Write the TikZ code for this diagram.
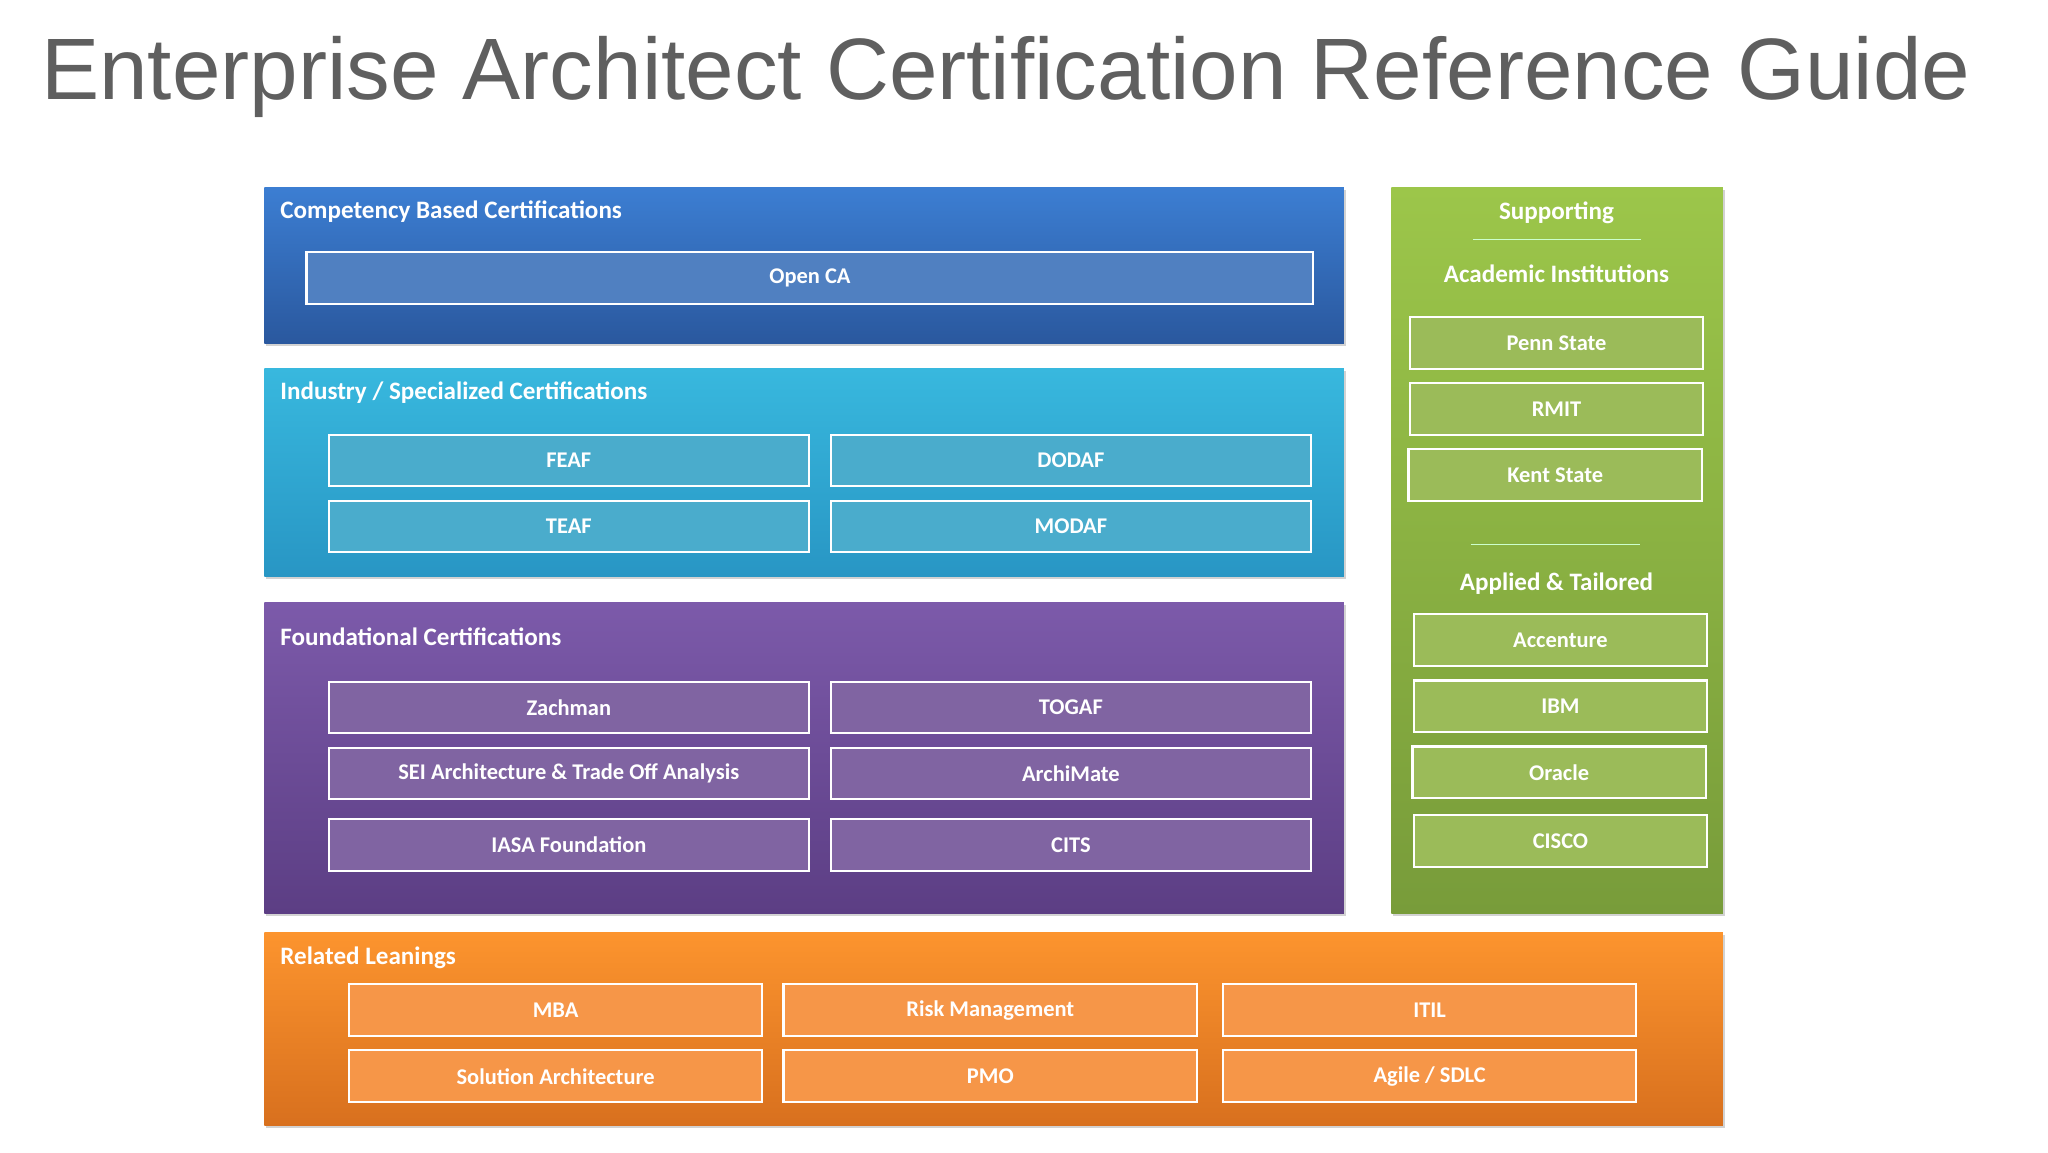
\documentclass[tikz,border=0pt]{standalone}
\usepackage{fontspec}
\setmainfont{Carlito}
\newfontfamily\titlefont{Liberation Sans}
\usetikzlibrary{shadows}
\definecolor{tgray}{HTML}{5F5F5F}
\begin{document}
\begin{tikzpicture}[x=1pt,y=-1pt,
  panel/.style={draw=none, drop shadow={shadow xshift=1.5pt,shadow yshift=-2pt,opacity=0.35}},
  ib/.style={draw=white, line width=1.6pt, minimum height=39pt, inner sep=0pt, text=white, font=\bfseries\fontsize{17}{20}\selectfont},
  hd/.style={anchor=west, text=white, font=\bfseries\fontsize{19}{22}\selectfont, inner sep=0pt},
  sh/.style={text=white, font=\bfseries\fontsize{19}{22}\selectfont, inner sep=0pt}]
\useasboundingbox (0,0) rectangle (1550,872);
\fill[white] (0,0) rectangle (1550,872);
\node[anchor=base west, inner sep=0pt, text=tgray, font=\titlefont\fontsize{66}{70}\selectfont] (title) at (31,75) {Enterprise Architect Certification Reference Guide};
% blue
\shade[panel, top color={rgb,255:red,60;green,126;blue,210}, bottom color={rgb,255:red,42;green,88;blue,158}] (200,142) rectangle (1017,260);
\node[hd] (h1) at (212,160) {Competency Based Certifications};
\node[ib, fill={rgb,255:red,80;green,128;blue,193}, minimum width=762pt] (openca) at (613,210.5) {Open CA};
% cyan
\shade[panel, top color={rgb,255:red,56;green,184;blue,222}, bottom color={rgb,255:red,40;green,150;blue,196}] (200,279) rectangle (1017,436);
\node[hd] (h2) at (212,297) {Industry / Specialized Certifications};
\tikzset{cy/.style={ib, fill={rgb,255:red,74;green,172;blue,204}, minimum width=363pt}}
\node[cy] (feaf) at (430.5,348.5) {FEAF};
\node[cy] (dodaf) at (810.5,348.5) {DODAF};
\node[cy] (teaf) at (430.5,398.5) {TEAF};
\node[cy] (modaf) at (810.5,398.5) {MODAF};
% purple
\shade[panel, top color={rgb,255:red,124;green,90;blue,170}, bottom color={rgb,255:red,92;green,62;blue,132}] (200,456) rectangle (1017,691);
\node[hd] (h3) at (212,482) {Foundational Certifications};
\tikzset{pu/.style={ib, fill={rgb,255:red,128;green,100;blue,162}, minimum width=363pt}}
\node[pu] (zach) at (430.5,535.5) {Zachman};
\node[pu] (togaf) at (810.5,535.5) {TOGAF};
\node[pu] (sei) at (430.5,585.5) {SEI Architecture \& Trade Off Analysis};
\node[pu] (archi) at (810.5,585.5) {ArchiMate};
\node[pu] (iasa) at (430.5,639.5) {IASA Foundation};
\node[pu] (cits) at (810.5,639.5) {CITS};
% green
\shade[panel, top color={rgb,255:red,156;green,198;blue,74}, bottom color={rgb,255:red,120;green,156;blue,58}] (1053,142) rectangle (1304,691);
\node[sh] (sup) at (1178,161) {Supporting};
\coordinate (l1a) at (1115,181); \coordinate (l1b) at (1242,181);
\draw[white!80!green, line width=0.8pt] (l1a) -- (l1b);
\node[sh] (acad) at (1178,207) {Academic Institutions};
\tikzset{gr/.style={ib, fill={rgb,255:red,155;green,187;blue,89}, minimum width=222pt}}
\node[gr] (penn) at (1178,259.5) {Penn State};
\node[gr] (rmit) at (1178,309.5) {RMIT};
\node[gr] (kent) at (1177,359.5) {Kent State};
\coordinate (l2a) at (1113,412); \coordinate (l2b) at (1241,412);
\draw[white!80!green, line width=0.8pt] (l2a) -- (l2b);
\node[sh] (appl) at (1178,442) {Applied \& Tailored};
\node[gr] (acc) at (1181,484.5) {Accenture};
\node[gr] (ibm) at (1181,534.5) {IBM};
\node[gr] (orc) at (1180,584.5) {Oracle};
\node[gr] (cisco) at (1181,636.5) {CISCO};
% orange
\shade[panel, top color={rgb,255:red,252;green,148;blue,46}, bottom color={rgb,255:red,216;green,112;blue,30}] (200,706) rectangle (1304,852);
\node[hd] (h4) at (212,725) {Related Leanings};
\tikzset{or/.style={ib, fill={rgb,255:red,246;green,150;blue,72}, minimum width=313pt}}
\node[or] (mba) at (420.5,764.5) {MBA};
\node[or] (risk) at (749.5,764.5) {Risk Management};
\node[or] (itil) at (1082,764.5) {ITIL};
\node[or] (sol) at (420.5,814.5) {Solution Architecture};
\node[or] (pmo) at (749.5,814.5) {PMO};
\node[or] (agile) at (1082,814.5) {Agile / SDLC};
\end{tikzpicture}
\end{document}
